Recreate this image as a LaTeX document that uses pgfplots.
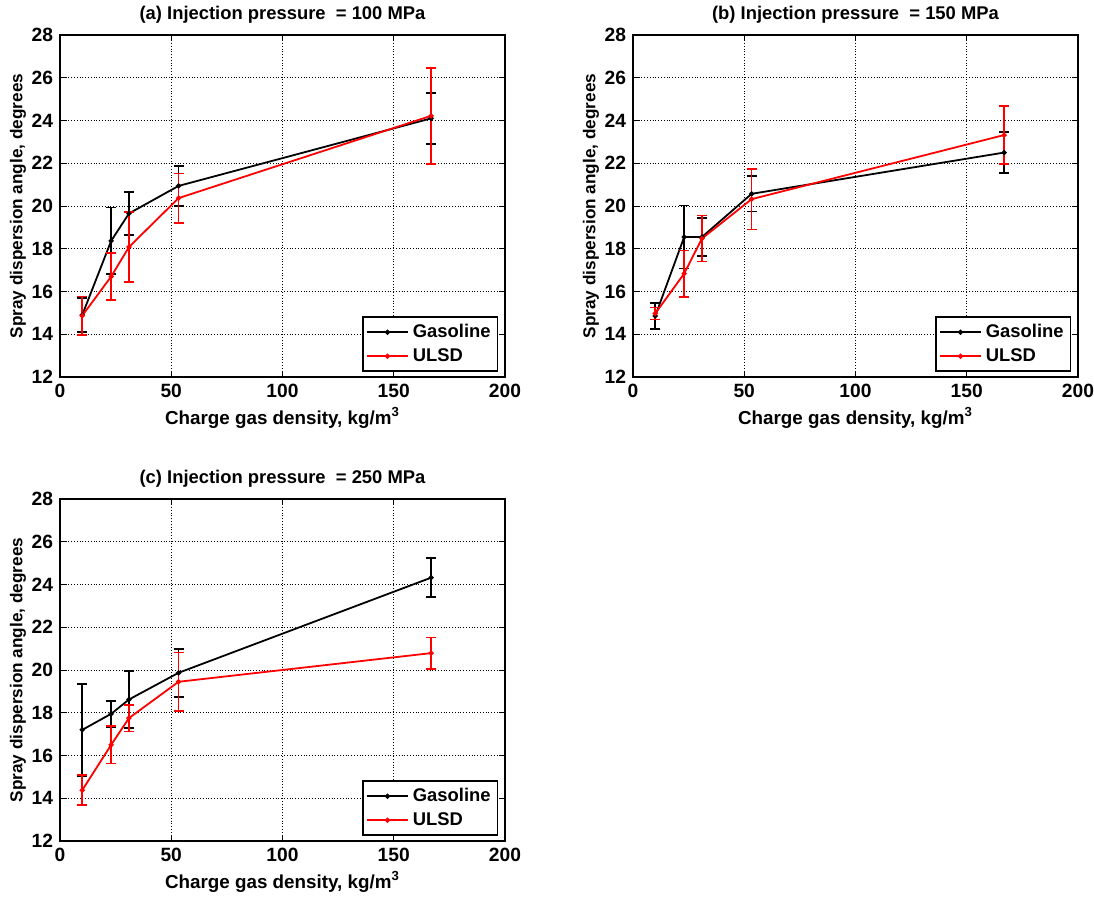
\documentclass[border=0pt]{standalone}
\usepackage{fontspec}
\setmainfont{Liberation Sans}
\usepackage{pgfplots}
\pgfplotsset{compat=1.18}

\pgfplotsset{
  sprayax/.style={
    scale only axis, width=222.5pt, height=171pt,
    xmin=0, xmax=200, ymin=12, ymax=28,
    xtick={0,50,...,200}, ytick={12,14,...,28},
    grid=major, grid style={densely dotted, black, line width=0.4pt},
    axis line style={line width=0.7pt},
    tick align=inside, major tick length=3pt,
    tick style={black, line width=0.5pt},
    /pgf/number format/assume math mode=true,
    tick label style={font=\fontsize{9.6}{11}\selectfont\bfseries},
    xlabel={Charge gas density, kg/m\textsuperscript{3}},
    ylabel={Spray dispersion angle, degrees},
    every axis x label/.style={font=\fontsize{9.4}{11}\selectfont\bfseries,
      at={(axis description cs:0.5,0)}, anchor=center, yshift=-20.5pt},
    every axis y label/.style={font=\fontsize{8.6}{10}\selectfont\bfseries,
      at={(axis description cs:0,0.5)}, rotate=90, anchor=center, yshift=21pt},
    every axis title/.style={font=\fontsize{9.2}{11}\selectfont\bfseries,
      at={(axis description cs:0.5,1)}, anchor=center, yshift=10pt},
    legend style={at={(0.985,0.015)}, anchor=south east, draw=black,
      line width=0.7pt, font=\fontsize{9.2}{11}\selectfont\bfseries,
      inner sep=1.5pt, row sep=0pt},
    legend cell align=left,
    legend image code/.code={%
      \draw[mark repeat=2, mark phase=2]
        plot coordinates {(0cm,0cm) (0.36cm,0cm) (0.72cm,0cm)};},
  },
  ser/.style={#1, line width=0.9pt, mark=*, mark size=0.8pt,
    mark options={solid, fill=#1},
    error bars/y dir=both, error bars/y explicit,
    error bars/error bar style={line width=0.9pt, #1},
    error bars/error mark options={rotate=90, mark size=2.5pt, line width=0.9pt, #1}},
}

\begin{document}
\begin{tikzpicture}
\useasboundingbox (-30pt,-259.5pt) rectangle (517pt,188.5pt);

% (a) 100 MPa
\begin{axis}[sprayax, at={(0pt,0pt)}, anchor=south west,
  title={(a) Injection pressure ~= 100 MPa}]
  \addplot[ser=black] coordinates {
    (10,14.9) +- (0,0.8)
    (23,18.37) +- (0,1.56)
    (31,19.65) +- (0,1.0)
    (53.3,20.94) +- (0,0.95)
    (166.8,24.1) +- (0,1.2)
  };
  \addlegendentry{Gasoline}
  \addplot[ser=red] coordinates {
    (10,14.87) +- (0,0.9)
    (23,16.7) +- (0,1.1)
    (31,18.08) +- (0,1.65)
    (53.3,20.37) +- (0,1.15)
    (166.8,24.22) +- (0,2.25)
  };
  \addlegendentry{ULSD}
\end{axis}

% (b) 150 MPa
\begin{axis}[sprayax, at={(286.5pt,0pt)}, anchor=south west,
  title={(b) Injection pressure ~= 150 MPa}]
  \addplot[ser=black] coordinates {
    (10,14.85) +- (0,0.6)
    (23,18.55) +- (0,1.47)
    (31,18.55) +- (0,0.9)
    (53.3,20.57) +- (0,0.83)
    (166.8,22.5) +- (0,0.96)
  };
  \addlegendentry{Gasoline}
  \addplot[ser=red] coordinates {
    (10,14.97) +- (0,0.28)
    (23,16.84) +- (0,1.08)
    (31,18.48) +- (0,1.08)
    (53.3,20.32) +- (0,1.42)
    (166.8,23.32) +- (0,1.37)
  };
  \addlegendentry{ULSD}
\end{axis}

% (c) 250 MPa
\begin{axis}[sprayax, at={(0pt,-232pt)}, anchor=south west,
  title={(c) Injection pressure ~= 250 MPa}]
  \addplot[ser=black] coordinates {
    (10,17.2) +- (0,2.14)
    (23,17.95) +- (0,0.6)
    (31,18.62) +- (0,1.33)
    (53.3,19.87) +- (0,1.12)
    (166.8,24.32) +- (0,0.91)
  };
  \addlegendentry{Gasoline}
  \addplot[ser=red] coordinates {
    (10,14.38) +- (0,0.7)
    (23,16.5) +- (0,0.87)
    (31,17.75) +- (0,0.63)
    (53.3,19.45) +- (0,1.37)
    (166.8,20.79) +- (0,0.73)
  };
  \addlegendentry{ULSD}
\end{axis}
\end{tikzpicture}
\end{document}
